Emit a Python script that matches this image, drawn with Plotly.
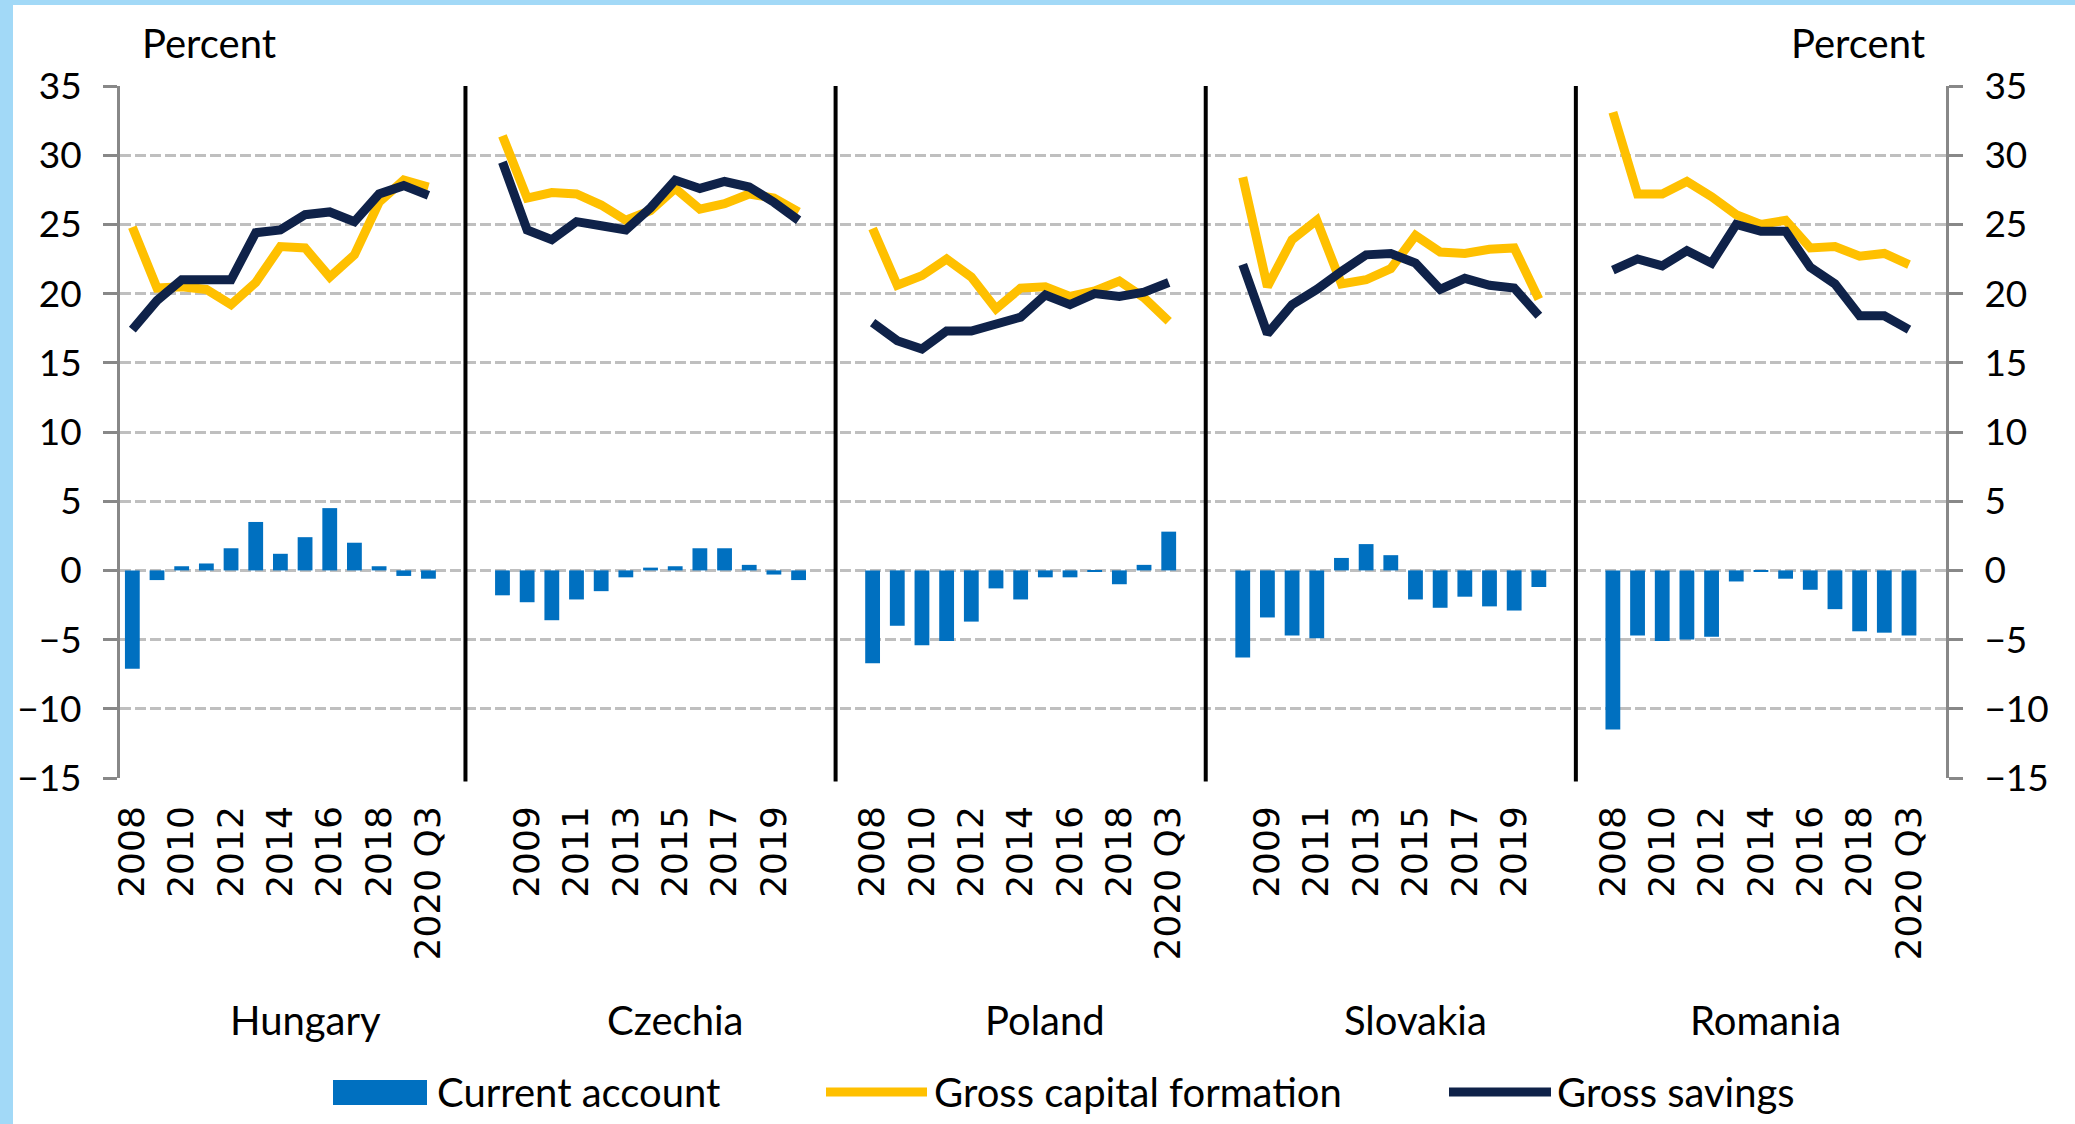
import plotly.graph_objects as go

# ---------------- data ----------------
countries = ["Hungary", "Czechia", "Poland", "Slovakia", "Romania"]
years = ["2008", "2009", "2010", "2011", "2012", "2013", "2014", "2015",
         "2016", "2017", "2018", "2019", "2020 Q3"]

# Current account (% of GDP)
ca_hungary = [-7.1, -0.7, 0.3, 0.5, 1.6, 3.5, 1.2, 2.4, 4.5, 2.0, 0.3, -0.4, -0.6]
ca_czechia = [-1.8, -2.3, -3.6, -2.1, -1.5, -0.5, 0.2, 0.3, 1.6, 1.6, 0.4, -0.3, -0.7]
ca_poland = [-6.7, -4.0, -5.4, -5.1, -3.7, -1.3, -2.1, -0.5, -0.5, -0.1, -1.0, 0.4, 2.8]
ca_slovakia = [-6.3, -3.4, -4.7, -4.9, 0.9, 1.9, 1.1, -2.1, -2.7, -1.9, -2.6, -2.9, -1.2]
ca_romania = [-11.5, -4.7, -5.1, -5.0, -4.8, -0.8, -0.1, -0.6, -1.4, -2.8, -4.4, -4.5, -4.7]

# Gross capital formation (% of GDP)
gcf_hungary = [24.8, 20.4, 20.5, 20.3, 19.2, 20.8, 23.4, 23.3, 21.2, 22.8, 26.6, 28.2, 27.7]
gcf_czechia = [31.4, 26.9, 27.3, 27.2, 26.4, 25.3, 26.0, 27.6, 26.1, 26.5, 27.2, 26.9, 25.9]
gcf_poland = [24.7, 20.6, 21.3, 22.5, 21.2, 18.9, 20.4, 20.5, 19.8, 20.2, 20.9, 19.7, 18.0]
gcf_slovakia = [28.4, 20.5, 23.9, 25.3, 20.7, 21.0, 21.8, 24.2, 23.0, 22.9, 23.2, 23.3, 19.6]
gcf_romania = [33.1, 27.2, 27.2, 28.1, 27.0, 25.7, 25.0, 25.3, 23.3, 23.4, 22.7, 22.9, 22.1]

# Gross savings (% of GDP)
gs_hungary = [17.4, 19.5, 21.0, 21.0, 21.0, 24.4, 24.6, 25.7, 25.9, 25.2, 27.2, 27.8, 27.1]
gs_czechia = [29.5, 24.6, 23.9, 25.2, 24.9, 24.6, 26.2, 28.2, 27.6, 28.1, 27.7, 26.6, 25.3]
gs_poland = [17.9, 16.6, 16.0, 17.3, 17.3, 17.8, 18.3, 19.9, 19.2, 20.0, 19.8, 20.1, 20.8]
gs_slovakia = [22.1, 17.1, 19.2, 20.3, 21.6, 22.8, 22.9, 22.2, 20.3, 21.1, 20.6, 20.4, 18.4]
gs_romania = [21.7, 22.5, 22.0, 23.1, 22.2, 25.0, 24.5, 24.5, 21.9, 20.7, 18.4, 18.4, 17.4]

ca_all = [ca_hungary, ca_czechia, ca_poland, ca_slovakia, ca_romania]
gcf_all = [gcf_hungary, gcf_czechia, gcf_poland, gcf_slovakia, gcf_romania]
gs_all = [gs_hungary, gs_czechia, gs_poland, gs_slovakia, gs_romania]

y_ticks = [-15, -10, -5, 0, 5, 10, 15, 20, 25, 30, 35]

# ---------------- category layout (Excel-like slots) ----------------
group_start = [0, 15, 30, 45, 60]      # first data slot of each country
separators = [13.5, 28.5, 43.5, 58.5]  # slot boundaries between countries
x_range = [-0.5, 73.5]

bar_x, bar_y = [], []
gcf_x, gcf_y, gs_x, gs_y = [], [], [], []
tickvals, ticktext = [], []
for g, start in enumerate(group_start):
    for i, yr in enumerate(years):
        slot = start + i
        bar_x.append(slot)
        bar_y.append(ca_all[g][i])
        gcf_x.append(slot)
        gcf_y.append(gcf_all[g][i])
        gs_x.append(slot)
        gs_y.append(gs_all[g][i])
        if slot % 2 == 0:
            tickvals.append(slot)
            ticktext.append(yr)
    gcf_x.append(None); gcf_y.append(None)
    gs_x.append(None); gs_y.append(None)

# ---------------- figure ----------------
W, H = 2075, 1124
L, R, T, B = 120, 129, 86, 346
PW, PH = W - L - R, H - T - B


def px_x(px):
    return (px - L) / PW


def px_y(py):
    return (T + PH - py) / PH


BLUE = "#0070C0"
YELLOW = "#FFC000"
NAVY = "#0F2249"
GRID = "#BFBFBF"
AXIS = "#888888"
FONT = "Lato"
TXT = 40

fig = go.Figure()
fig.add_trace(go.Bar(x=bar_x, y=bar_y, width=0.6, marker=dict(color=BLUE, line=dict(width=0)),
                     name="Current account", showlegend=False))
fig.add_trace(go.Scatter(x=gcf_x, y=gcf_y, mode="lines", yaxis="y2",
                         line=dict(color=YELLOW, width=9), connectgaps=False,
                         name="Gross capital formation", showlegend=False))
fig.add_trace(go.Scatter(x=gs_x, y=gs_y, mode="lines", yaxis="y2",
                         line=dict(color=NAVY, width=9), connectgaps=False,
                         name="Gross savings", showlegend=False))

yaxis_common = dict(range=[-15, 35], tickvals=y_ticks, ticks="outside", ticklen=14,
                    tickwidth=3, tickcolor=AXIS, showline=True, linecolor=AXIS, linewidth=3,
                    zeroline=False, tickfont=dict(family=FONT, size=37, color="black"),
                    ticklabelstandoff=14)

fig.update_layout(
    width=W, height=H,
    margin=dict(l=L, r=R, t=T, b=B, pad=0),
    paper_bgcolor="white", plot_bgcolor="white",
    font=dict(family=FONT, size=TXT, color="black"),
    showlegend=False,
    barmode="overlay",
    xaxis=dict(range=x_range, tickvals=tickvals, ticktext=ticktext, tickangle=-90,
               showgrid=False, zeroline=False, showline=False, ticks="",
               tickfont=dict(family="DejaVu Sans", size=36, color="black"),
               ticklabelstandoff=20),
    yaxis=dict(**yaxis_common, side="left", showgrid=True, gridcolor=GRID, gridwidth=3,
               griddash="11px,4px"),
    yaxis2=dict(**yaxis_common, side="right", overlaying="y", showgrid=False),
)

shapes = []
# separators between countries
for s in separators:
    shapes.append(dict(type="line", xref="x", yref="paper", x0=s, x1=s, y0=-0.005, y1=1,
                       line=dict(color="black", width=4)))
# light blue frame on left and top
shapes.append(dict(type="rect", xref="paper", yref="paper", x0=px_x(0), x1=px_x(13),
                   y0=px_y(H), y1=px_y(0), fillcolor="#A2D9F7", line=dict(width=0), layer="below"))
shapes.append(dict(type="rect", xref="paper", yref="paper", x0=px_x(0), x1=px_x(W),
                   y0=px_y(5), y1=px_y(0), fillcolor="#A2D9F7", line=dict(width=0), layer="below"))

# custom legend
leg_y = 1092
shapes.append(dict(type="rect", xref="paper", yref="paper", x0=px_x(333), x1=px_x(427),
                   y0=px_y(1105), y1=px_y(1080), fillcolor=BLUE, line=dict(width=0)))
shapes.append(dict(type="line", xref="paper", yref="paper", x0=px_x(826), x1=px_x(927),
                   y0=px_y(leg_y), y1=px_y(leg_y), line=dict(color=YELLOW, width=9)))
shapes.append(dict(type="line", xref="paper", yref="paper", x0=px_x(1449), x1=px_x(1551),
                   y0=px_y(leg_y), y1=px_y(leg_y), line=dict(color=NAVY, width=9)))
fig.update_layout(shapes=shapes)

annotations = []
legend_items = [("Current account", 435), ("Gross capital formation", 932), ("Gross savings", 1555)]
for txt, xpx in legend_items:
    annotations.append(dict(text=txt, xref="paper", yref="paper", x=px_x(xpx), y=px_y(leg_y),
                            xanchor="left", yanchor="middle", showarrow=False,
                            font=dict(family=FONT, size=TXT, color="black")))

# "Percent" unit labels
annotations.append(dict(text="Percent", xref="paper", yref="paper", x=px_x(209), y=px_y(43),
                        xanchor="center", yanchor="middle", showarrow=False))
annotations.append(dict(text="Percent", xref="paper", yref="paper", x=px_x(1858), y=px_y(43),
                        xanchor="center", yanchor="middle", showarrow=False))

# country names
country_label_x = [7.0, 22.0, 37.0, 52.0, 66.2]
for name, cx in zip(countries, country_label_x):
    annotations.append(dict(text=name, xref="x", yref="paper", x=cx, y=px_y(1020),
                            xanchor="center", yanchor="middle", showarrow=False,
                            font=dict(family=FONT, size=TXT, color="black")))

fig.update_layout(annotations=annotations)

fig.write_html(
    "out.html",
    config={"displayModeBar": False},
    post_script="document.body.style.margin='0';document.documentElement.style.overflow='hidden';",
)
